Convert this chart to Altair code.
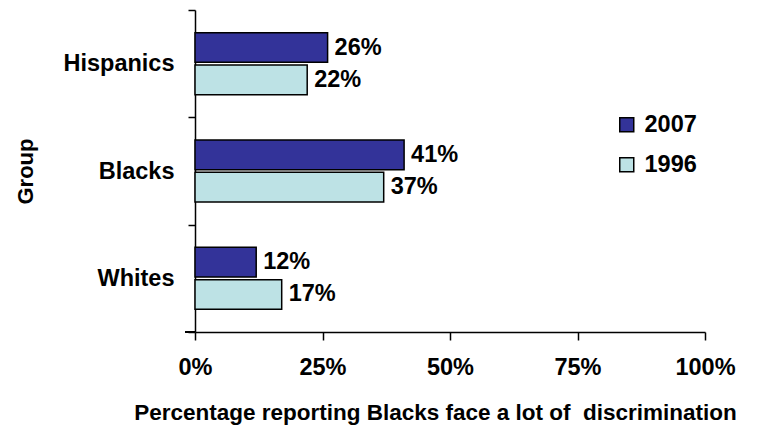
import altair as alt
import pandas as pd

groups = ["Hispanics", "Blacks", "Whites"]
years = ["2007", "1996"]
values_2007 = [0.26, 0.41, 0.12]
values_1996 = [0.22, 0.37, 0.17]
x_ticks = [0, 0.25, 0.5, 0.75, 1.0]
colors = ["#333399", "#BDE2E5"]

rows = []
for g, v07, v96 in zip(groups, values_2007, values_1996):
    rows.append({"Group": g, "Year": "2007", "Value": v07})
    rows.append({"Group": g, "Year": "1996", "Value": v96})
df = pd.DataFrame(rows)

FONT = "Liberation Sans"
W, H = 510, 322

y_enc = alt.Y("Group:N", sort=groups,
              scale=alt.Scale(paddingInner=0, paddingOuter=0),
              axis=alt.Axis(title="Group", tickBand="extent", labelFontSize=23.5,
                            labelFontWeight="bold", labelFont=FONT, labelColor="black",
                            labelPadding=14, tickSize=7, tickColor="black",
                            domainColor="black", tickWidth=1.5, domainWidth=1.5,
                            titleFont=FONT, titleFontSize=22, titleFontWeight="bold",
                            titleColor="black", titleAngle=270, titleX=-170, titleY=H / 2,
                            titleAlign="center", titleBaseline="middle"))
yoff = alt.YOffset("Year:N", sort=years,
                   scale=alt.Scale(paddingInner=0.08, paddingOuter=0.7))

x_enc = alt.X("Value:Q", scale=alt.Scale(domain=[0, 1]),
              axis=alt.Axis(values=x_ticks, format=".0%", grid=False,
                            title="Percentage reporting Blacks face a lot of \u00a0discrimination",
                            labelFontSize=23.5, labelFontWeight="bold", labelFont=FONT,
                            labelColor="black", labelPadding=15, tickSize=8,
                            tickColor="black", domainColor="black", tickWidth=1.5,
                            domainWidth=1.5, labelFlush=False,
                            titleFont=FONT, titleFontSize=22.5, titleFontWeight="bold",
                            titleColor="black", titleX=240, titleY=80,
                            titleAlign="center", titleBaseline="middle"))

bars = alt.Chart(df).mark_bar(stroke="black", strokeWidth=1.5).encode(
    x=x_enc,
    y=y_enc,
    yOffset=yoff,
    color=alt.Color("Year:N", sort=years,
                    scale=alt.Scale(domain=years, range=colors),
                    legend=alt.Legend(title=None, orient="none", legendX=420, legendY=103,
                                      labelFontSize=23.5, labelFontWeight="bold",
                                      labelFont=FONT, labelColor="black",
                                      symbolType="square", symbolSize=196,
                                      symbolStrokeColor="black", symbolStrokeWidth=1.5,
                                      rowPadding=15, labelOffset=6)),
)

labels = alt.Chart(df).mark_text(align="left", baseline="middle", dx=7,
                                 fontSize=23.5, fontWeight="bold", font=FONT,
                                 color="black").encode(
    x="Value:Q",
    y=alt.Y("Group:N", sort=groups),
    yOffset=yoff,
    text=alt.Text("Value:Q", format=".0%"),
)

ext = alt.Chart(df).mark_rule(color="black", strokeWidth=1.5).encode(
    x=alt.value(-10), x2=alt.value(0), y=alt.value(H)
)

chart = (bars + labels + ext).properties(
    width=W, height=H,
    autosize=alt.AutoSizeParams(type="none"),
    padding={"left": 195, "top": 10, "right": 67, "bottom": 96},
    background="white",
).configure_view(strokeWidth=0, stroke=None)

chart.save("out.html", embed_options={"renderer": "svg", "actions": False})
